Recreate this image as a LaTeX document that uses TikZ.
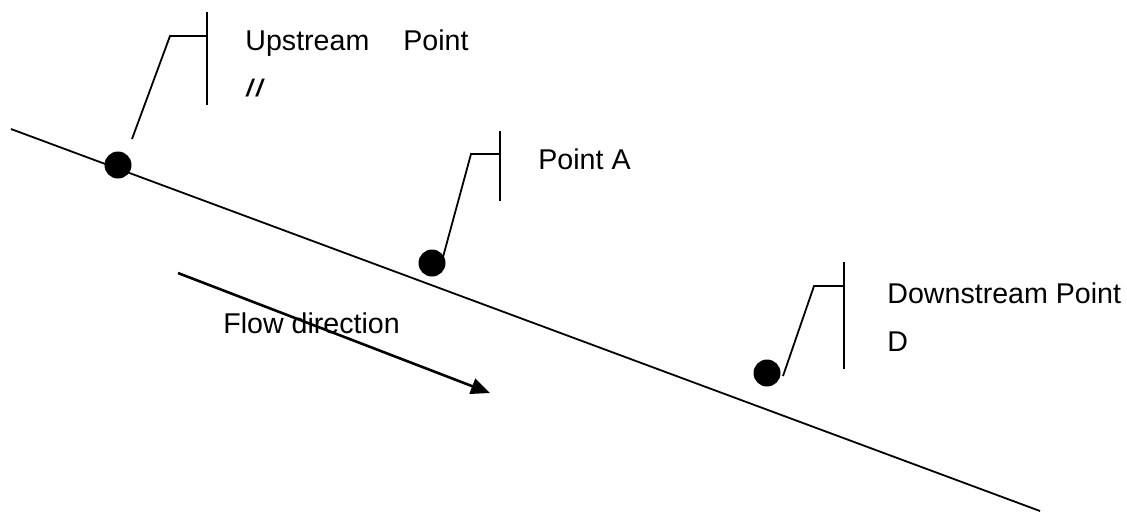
\documentclass[tikz,border=0pt]{standalone}
\usepackage{fontspec}
\setmainfont{Liberation Sans}
\usepackage{tikz}
\usetikzlibrary{arrows.meta, positioning}

\begin{document}
\begin{tikzpicture}[
  x=0.5pt, y=-0.5pt,
  dot/.style={circle, fill=black, draw=none, minimum size=13.5pt, inner sep=0pt},
  label/.style={anchor=base west, inner sep=0pt, font=\fontsize{14.3}{17}\selectfont},
  leader/.style={line width=0.9pt, color=black},
  flow/.style={-{Triangle[length=9.5pt, width=8pt]}, line width=1.3pt}
]
\useasboundingbox (0,0) rectangle (1127,511);

% stream line
\coordinate (s0) at (11,129);
\coordinate (s1) at (1040,511);
\draw[leader] (s0) -- (s1);

% points on the stream
\node[dot] (up) at (118,165) {};
\node[dot] (pa) at (432,263) {};
\node[dot] (down) at (767,373) {};

% callout marks
\coordinate (upfoot) at (132,139);
\coordinate (upknee) at (170,36);
\coordinate (upbar) at (207,36);
\coordinate (upbart) at (207,12);
\coordinate (upbarb) at (207,105);
\draw[leader] (upfoot) -- (upknee) -- (upbar);
\draw[leader] (upbart) -- (upbarb);

\coordinate (pafoot) at (443,257);
\coordinate (paknee) at (471,154);
\coordinate (pabar) at (500,154);
\coordinate (pabart) at (500,131);
\coordinate (pabarb) at (500,201);
\draw[leader] (pafoot) -- (paknee) -- (pabar);
\draw[leader] (pabart) -- (pabarb);

\coordinate (dnfoot) at (783,376);
\coordinate (dnknee) at (814,286);
\coordinate (dnbar) at (844,286);
\coordinate (dnbart) at (844,262);
\coordinate (dnbarb) at (844,369);
\draw[leader] (dnfoot) -- (dnknee) -- (dnbar);
\draw[leader] (dnbart) -- (dnbarb);

% labels
\node[label] (uptext) at (245,50) {Upstream\hspace{17pt}Point};
\node[label] (upmark) at (246,96) {\bfseries\itshape\fontsize{12}{14}\selectfont/\kern1.5pt/};
\node[label] (patext) at (538,169) {Point A};
\node[label] (dntext) at (887,303) {Downstream Point};
\node[label] (dnmark) at (887,351) {D};

% flow direction
\coordinate (fl0) at (178,273);
\coordinate (fl1) at (490,393);
\draw[flow] (fl0) -- (fl1);
\node[label] (flowtext) at (223,333) {Flow direction};

\end{tikzpicture}
\end{document}
